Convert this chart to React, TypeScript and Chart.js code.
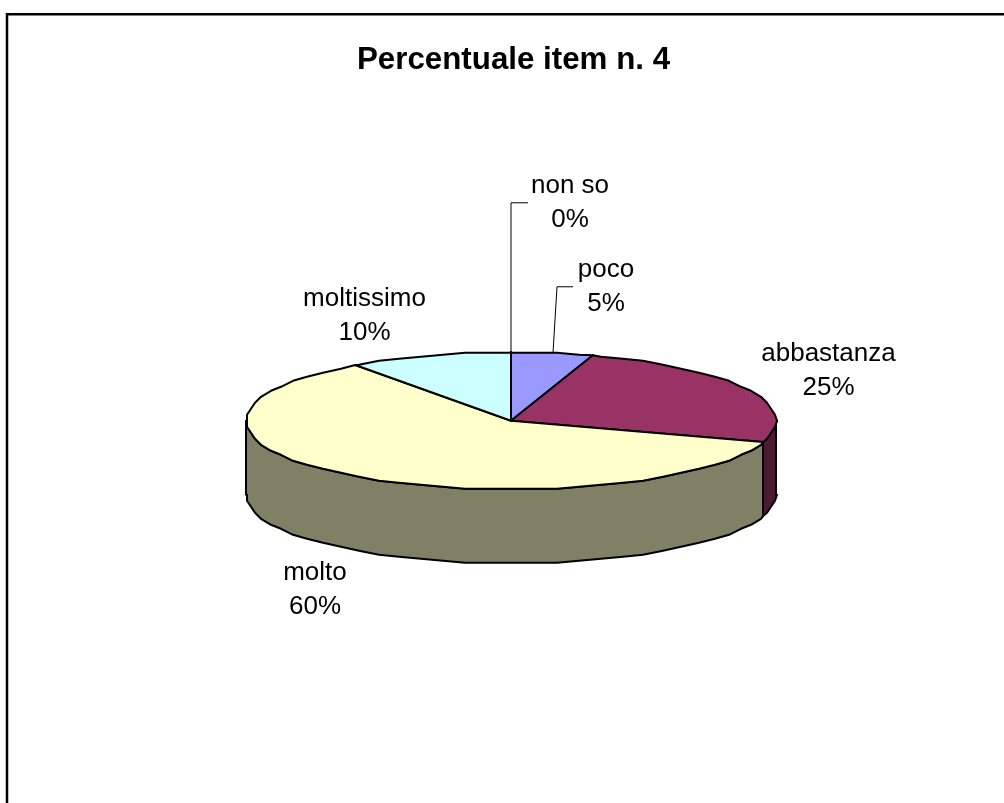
import React, { useEffect, useRef } from "react";
import { Chart, registerables } from "chart.js";

Chart.register(...registerables);

const categories = ["poco", "abbastanza", "molto", "moltissimo", "non so"];
const percentages = [5, 25, 60, 10, 0];
const topColors = ["#9999FF", "#993366", "#FFFFCC", "#CCFFFF", "#660066"];
const sideColors = ["#4D4D80", "#4D1A33", "#808066", "#668080", "#330033"];
const chartTitle = "Percentuale item n. 4";

const FONT = '"Liberation Sans", Arial, sans-serif';
const TILT = 0.26; // vertical squash of the pie
const DEPTH = 74; // height of the 3D wall
const FACET = Math.PI / 36; // polyline step of the rim
const SNAP = 2; // rim vertices snap to this grid, giving the source's stepped outline
const PIE_SHIFT = -2.5; // the pie sits slightly left of the title's centre

// Label layout, offsets from the pie centre: centre x, baselines
const labelLayout = [
  { dx: 95, dy: -144, lead: [[42, -68], [46, -134], [62, -134]] },
  { dx: 317.5, dy: -60, lead: null },
  { dx: -196, dy: 159, lead: null },
  { dx: -146.5, dy: -115, lead: null },
  { dx: 59, dy: -228, lead: [[0, -68], [0, -218], [17, -218]] },
];

function arcPts(cx: number, cy: number, r: number, a0: number, a1: number) {
  const pts: [number, number][] = [];
  const first = Math.ceil(a0 / FACET);
  const last = Math.floor(a1 / FACET);
  const exact = (a: number): [number, number] => [cx + r * Math.cos(a), cy + r * TILT * Math.sin(a)];
  pts.push(exact(a0));
  for (let i = first; i <= last; i++) {
    const p = exact(i * FACET);
    pts.push([cx + Math.round((p[0] - cx) / SNAP) * SNAP, cy + Math.round((p[1] - cy) / SNAP) * SNAP]);
  }
  pts.push(exact(a1));
  return pts;
}

const pie3d = {
  id: "pie3d",
  beforeDatasetsDraw(chart: any) {
    const ctx: CanvasRenderingContext2D = chart.ctx;
    const arcs = chart.getDatasetMeta(0).data;
    ctx.save();
    ctx.lineJoin = "round";
    ctx.lineWidth = 2;
    ctx.strokeStyle = "#000";
    const TAU = Math.PI * 2;
    // walls: the visible front half of the rim
    arcs.forEach((el: any, i: number) => {
      const { startAngle, endAngle, x, y, outerRadius } = el.getProps(["startAngle", "endAngle", "x", "y", "outerRadius"], true);
      if (endAngle - startAngle <= 0) return;
      for (const k of [0, 1]) {
        const a0 = Math.max(startAngle, k * TAU);
        const a1 = Math.min(endAngle, k * TAU + Math.PI);
        if (a1 <= a0) continue;
        const top = arcPts(x + PIE_SHIFT, y, outerRadius, a0, a1);
        ctx.beginPath();
        top.forEach((p, j) => (j ? ctx.lineTo(p[0], p[1]) : ctx.moveTo(p[0], p[1])));
        [...top].reverse().forEach((p) => ctx.lineTo(p[0], p[1] + DEPTH));
        ctx.closePath();
        ctx.fillStyle = sideColors[i];
        ctx.fill();
        ctx.stroke();
      }
    });
    // top faces
    arcs.forEach((el: any) => {
      const { startAngle, endAngle, x, y, outerRadius } = el.getProps(["startAngle", "endAngle", "x", "y", "outerRadius"], true);
      if (endAngle - startAngle <= 0) return;
      const pts = arcPts(x + PIE_SHIFT, y, outerRadius, startAngle, endAngle);
      ctx.beginPath();
      ctx.moveTo(x + PIE_SHIFT, y);
      pts.forEach((p) => ctx.lineTo(p[0], p[1]));
      ctx.closePath();
      ctx.fillStyle = el.options.backgroundColor;
      ctx.fill();
      ctx.stroke();
    });
    ctx.restore();
    return false;
  },
  afterDraw(chart: any) {
    const ctx: CanvasRenderingContext2D = chart.ctx;
    const el = chart.getDatasetMeta(0).data[0];
    const cx = el.x + PIE_SHIFT;
    const cy = el.y;
    ctx.save();
    ctx.fillStyle = "#000";
    ctx.font = `26px ${FONT}`;
    ctx.textAlign = "center";
    ctx.textBaseline = "alphabetic";
    categories.forEach((c, i) => {
      const l = labelLayout[i];
      ctx.fillText(c, cx + l.dx, cy + l.dy);
      ctx.fillText(`${percentages[i]}%`, cx + l.dx, cy + l.dy + 34.5);
      if (l.lead) {
        ctx.beginPath();
        ctx.lineWidth = 1;
        ctx.strokeStyle = "#000";
        l.lead.forEach((p, j) => (j ? ctx.lineTo(cx + p[0], cy + p[1]) : ctx.moveTo(cx + p[0], cy + p[1])));
        ctx.stroke();
      }
    });
    ctx.restore();
  },
  beforeDraw(chart: any) {
    const ctx: CanvasRenderingContext2D = chart.ctx;
    ctx.save();
    ctx.fillStyle = "#fff";
    ctx.fillRect(0, 0, chart.width, chart.height);
    // the frame runs off the picture at the right and at the bottom
    ctx.strokeStyle = "#000";
    ctx.lineWidth = 2.5;
    ctx.beginPath();
    ctx.moveTo(7, chart.height + 5);
    ctx.lineTo(7, 14.25);
    ctx.lineTo(chart.width + 5, 14.25);
    ctx.stroke();
    ctx.restore();
  },
};

export default function App() {
  const ref = useRef<HTMLCanvasElement>(null);
  useEffect(() => {
    const chart = new Chart(ref.current!, {
      type: "pie",
      data: {
        labels: categories,
        datasets: [{ data: percentages, backgroundColor: topColors, borderColor: "#000", borderWidth: 2, radius: 265 } as any],
      },
      options: {
        animation: false,
        responsive: false,
        layout: { padding: { left: 249, right: 226, top: 42, bottom: 45 } },
        plugins: {
          legend: { display: false },
          tooltip: { enabled: false },
          title: {
            display: true,
            text: chartTitle,
            color: "#000",
            font: { family: FONT, size: 31.3, weight: "bold" },
            padding: { top: 0, bottom: 4 },
          },
        },
      },
      plugins: [pie3d],
    } as any);
    return () => chart.destroy();
  }, []);
  return <canvas ref={ref} width={1004} height={803} style={{ position: "fixed", left: 0, top: 0, display: "block" }} />;
}
